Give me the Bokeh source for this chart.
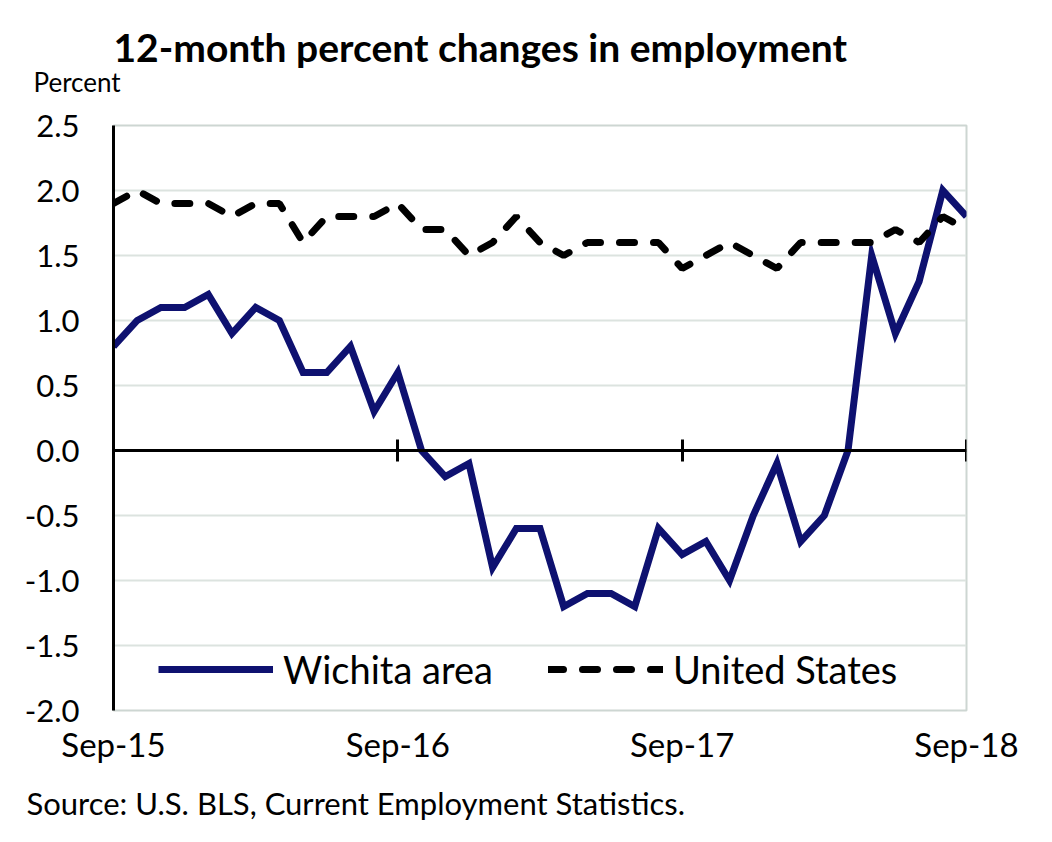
from bokeh.plotting import figure
from bokeh.models import (Range1d, FixedTicker, LinearAxis, Title, Legend,
                          LegendItem, NumeralTickFormatter)
from bokeh.embed import file_html
from bokeh.resources import INLINE

months = ["Sep-15", "Oct-15", "Nov-15", "Dec-15", "Jan-16", "Feb-16", "Mar-16",
          "Apr-16", "May-16", "Jun-16", "Jul-16", "Aug-16", "Sep-16", "Oct-16",
          "Nov-16", "Dec-16", "Jan-17", "Feb-17", "Mar-17", "Apr-17", "May-17",
          "Jun-17", "Jul-17", "Aug-17", "Sep-17", "Oct-17", "Nov-17", "Dec-17",
          "Jan-18", "Feb-18", "Mar-18", "Apr-18", "May-18", "Jun-18", "Jul-18",
          "Aug-18", "Sep-18"]

wichita = [0.8, 1.0, 1.1, 1.1, 1.2, 0.9, 1.1, 1.0, 0.6, 0.6, 0.8, 0.3, 0.6,
           0.0, -0.2, -0.1, -0.9, -0.6, -0.6, -1.2, -1.1, -1.1, -1.2, -0.6,
           -0.8, -0.7, -1.0, -0.5, -0.1, -0.7, -0.5, 0.0, 1.5, 0.9, 1.3, 2.0, 1.8]

united_states = [1.9, 2.0, 1.9, 1.9, 1.9, 1.8, 1.9, 1.9, 1.6, 1.8, 1.8, 1.8,
                 1.9, 1.7, 1.7, 1.5, 1.6, 1.8, 1.6, 1.5, 1.6, 1.6, 1.6, 1.6,
                 1.4, 1.5, 1.6, 1.5, 1.4, 1.6, 1.6, 1.6, 1.6, 1.7, 1.6, 1.8, 1.7]

tick_labels = ["Sep-15", "Sep-16", "Sep-17", "Sep-18"]
y_ticks = [-2.0, -1.5, -1.0, -0.5, 0.0, 0.5, 1.0, 1.5, 2.0, 2.5]

x = list(range(len(months)))
tick_pos = [months.index(t) for t in tick_labels]

FONT = "Lato"

p = figure(width=1036, height=838, x_range=Range1d(0, len(months) - 1),
           y_range=Range1d(-2.0, 2.5), output_backend="svg",
           toolbar_location=None, min_border_left=113, min_border_right=70,
           min_border_top=125, min_border_bottom=128)

p.title.text = "12-month percent changes in employment"
p.title.align = "left"
p.title.offset = 0
p.title.text_font = FONT
p.title.text_font_size = "39px"
p.title.text_font_style = "bold"
p.title.text_color = "black"
p.title.standoff = -67

p.add_layout(Title(text="Percent", align="left", offset=-80, text_font=FONT,
                   text_font_size="26px", text_font_style="normal",
                   text_color="black", standoff=55), "above")

# y axis
p.yaxis.ticker = FixedTicker(ticks=y_ticks)
p.yaxis.formatter = NumeralTickFormatter(format="0.0")
p.yaxis.major_tick_line_color = None
p.yaxis.major_tick_out = 0
p.yaxis.major_tick_in = 0
p.yaxis.minor_tick_line_color = None
p.yaxis.axis_line_color = "black"
p.yaxis.axis_line_width = 3
p.yaxis.major_label_standoff = 34
p.yaxis.major_label_text_font = FONT
p.yaxis.major_label_text_font_size = "31px"
p.yaxis.major_label_text_color = "black"

# x axis (labels at bottom)
p.xaxis.ticker = FixedTicker(ticks=tick_pos)
p.xaxis.major_label_overrides = dict(zip(tick_pos, tick_labels))
p.xaxis.axis_line_color = None
p.xaxis.major_tick_line_color = None
p.xaxis.major_tick_out = 0
p.xaxis.major_tick_in = 0
p.xaxis.minor_tick_line_color = None
p.xaxis.major_label_standoff = 13
p.xaxis.major_label_text_font = FONT
p.xaxis.major_label_text_font_size = "33px"
p.xaxis.major_label_text_color = "black"

# zero axis line with crossing ticks
zero_axis = LinearAxis(fixed_location=0, ticker=FixedTicker(ticks=tick_pos),
                       major_label_overrides={t: "" for t in tick_pos},
                       axis_line_color="black", axis_line_width=3,
                       major_tick_line_color="black", major_tick_line_width=3,
                       major_tick_in=11, major_tick_out=11,
                       minor_tick_line_color=None)
p.add_layout(zero_axis, "below")

p.xgrid.visible = False
p.ygrid.ticker = FixedTicker(ticks=y_ticks)
p.ygrid.grid_line_color = "#DCE3DF"
p.ygrid.grid_line_width = 2
p.outline_line_color = "#CDD6D2"
p.outline_line_width = 2

r1 = p.line(x, wichita, line_color="#0E1170", line_width=7, line_join="miter")
r2 = p.line(x, united_states, line_color="black", line_width=7,
            line_dash="15 19", line_cap="round")

legend = Legend(items=[LegendItem(label="Wichita area", renderers=[r1]),
                       LegendItem(label="United States", renderers=[r2])],
                orientation="horizontal", location=(45, 18), glyph_width=115,
                glyph_height=44, label_height=44, label_standoff=10,
                spacing=55, padding=0, margin=0, border_line_color=None,
                background_fill_alpha=0, label_text_font=FONT,
                label_text_font_size="38px", label_text_color="black")
p.add_layout(legend)

p.add_layout(Title(text="Source: U.S. BLS, Current Employment Statistics.",
                   align="left", offset=-87, text_font=FONT,
                   text_font_size="31px", text_font_style="normal",
                   text_color="black", standoff=30), "below")

open("out.html", "w").write(file_html(p, INLINE))
